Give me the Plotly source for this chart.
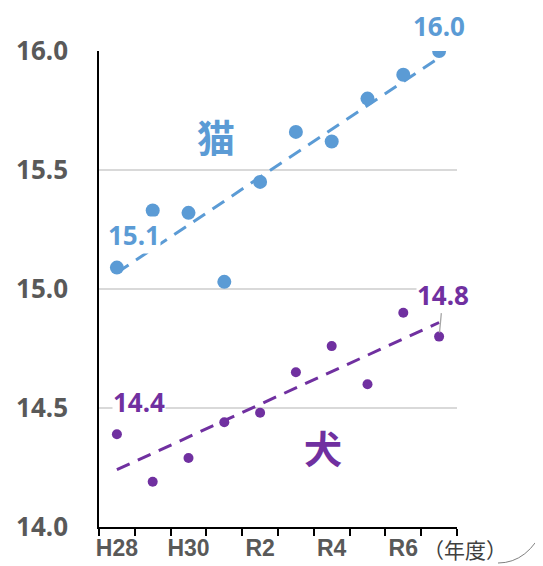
import numpy as np
import plotly.graph_objects as go

years = ["H28", "H29", "H30", "R1", "R2", "R3", "R4", "R5", "R6", "R7"]
tick_labels = ["H28", "", "H30", "", "R2", "", "R4", "", "R6", ""]
cat_values = [15.09, 15.33, 15.32, 15.03, 15.45, 15.66, 15.62, 15.80, 15.90, 16.00]
dog_values = [14.39, 14.19, 14.29, 14.44, 14.48, 14.65, 14.76, 14.60, 14.90, 14.80]

CAT = "#5B9BD5"
DOG = "#7030A0"

W, H = 543, 566
OFF = 8  # default page body margin
# plot area on screen: x 99..457, y 51..527
L = 99 - OFF
T = 51 - OFF
R = OFF + W - 457
B = OFF + H - 527
PW = 457 - 99
PH = 527 - 51


def px_to_paper(px, py):
    return (px - 99) / PW, (527 - py) / PH


idx = np.arange(len(years))
cat_fit = np.polyval(np.polyfit(idx, cat_values, 1), idx)
dog_fit = np.polyval(np.polyfit(idx, dog_values, 1), idx)

fig = go.Figure()
fig.add_trace(go.Scatter(x=years, y=cat_fit, mode="lines",
                         line=dict(color=CAT, width=3, dash="14px,9px"), showlegend=False))
fig.add_trace(go.Scatter(x=years, y=dog_fit, mode="lines",
                         line=dict(color=DOG, width=3, dash="14px,9px"), showlegend=False))
fig.add_trace(go.Scatter(x=years, y=cat_values, mode="markers",
                         marker=dict(color=CAT, size=14), showlegend=False))
fig.add_trace(go.Scatter(x=years, y=dog_values, mode="markers",
                         marker=dict(color=DOG, size=10), showlegend=False))

lab_font = dict(family="Noto Sans, Liberation Sans, sans-serif", size=26)

# value labels
fig.add_annotation(x=years[-1], y=cat_values[-1], text="<b>16.0</b>", showarrow=False,
                   yshift=25, font=dict(color=CAT, **lab_font), borderpad=0)
fig.add_annotation(x=years[0], y=cat_values[0], text="<b>15.1</b>", showarrow=False,
                   yshift=33, xshift=17, font=dict(color=CAT, **lab_font), bgcolor="white",
                   borderpad=0)
fig.add_annotation(x=years[0], y=dog_values[0], text="<b>14.4</b>", showarrow=False,
                   yshift=32, xshift=22, font=dict(color=DOG, **lab_font), bgcolor="white",
                   borderpad=0)
fig.add_annotation(x=years[-1], y=dog_values[-1], text="<b>14.8</b>", showarrow=True,
                   ax=4, ay=-42, arrowhead=0, arrowwidth=1.3, arrowcolor="#A6A6A6",
                   standoff=4, font=dict(color=DOG, **lab_font), bgcolor="white", borderpad=0)

# series names
cx, cy = px_to_paper(216, 135)
fig.add_annotation(x=cx, y=cy, xref="paper", yref="paper", text="<b>猫</b>",
                   xanchor="center", yanchor="middle",
                   showarrow=False, font=dict(color=CAT, size=38,
                                              family="Noto Sans CJK JP"))
dx, dy = px_to_paper(323, 447)
fig.add_annotation(x=dx, y=dy, xref="paper", yref="paper", text="<b>犬</b>",
                   xanchor="center", yanchor="middle",
                   showarrow=False, font=dict(color=DOG, size=38,
                                              family="Noto Sans CJK JP"))

# unit
ux, uy = px_to_paper(422, 549)
fig.add_annotation(x=ux, y=uy, xref="paper", yref="paper", text="（年度）",
                   xanchor="left", yanchor="middle", borderpad=0,
                   showarrow=False, font=dict(color="#404040", size=21,
                                              family="Noto Sans CJK JP"))

# decorative curve at bottom-right
p0 = px_to_paper(498, 563)
p1 = px_to_paper(528, 563)
p2 = px_to_paper(545, 526)
fig.add_shape(type="path", xref="paper", yref="paper",
              path=f"M {p0[0]},{p0[1]} Q {p1[0]},{p1[1]} {p2[0]},{p2[1]}",
              line=dict(color="#808080", width=1))

fig.update_layout(
    width=W, height=H,
    margin=dict(l=L, r=R, t=T, b=B),
    plot_bgcolor="white", paper_bgcolor="white",
    showlegend=False,
)
fig.update_xaxes(
    type="category", categoryorder="array", categoryarray=years,
    tickmode="array", tickvals=years, ticktext=["<b>%s</b>" % t if t else "" for t in tick_labels],
    tickson="boundaries", ticks="outside", ticklen=7, tickcolor="black", tickwidth=1.5,
    showline=True, linecolor="black", linewidth=1.5, showgrid=False,
    range=[-0.5, 9.5], tickangle=0, automargin=False,
    tickfont=dict(family="Liberation Sans Narrow, Arial Narrow, sans-serif",
                  size=23, color="#595959"),
)
fig.update_yaxes(
    range=[14, 16], tickvals=[14.0, 14.5, 15.0, 15.5, 16.0],
    ticktext=["<b>14.0</b>", "<b>14.5</b>", "<b>15.0</b>", "<b>15.5</b>", "<b>16.0</b>"],
    showline=True, linecolor="black", linewidth=1.5,
    showgrid=True, gridcolor="#D9D9D9", gridwidth=1.5,
    zeroline=False, ticks="", ticklabelstandoff=24, automargin=False,
    tickfont=dict(family="Noto Sans, sans-serif", size=26, color="#595959"),
)

fig.write_html("out.html")
